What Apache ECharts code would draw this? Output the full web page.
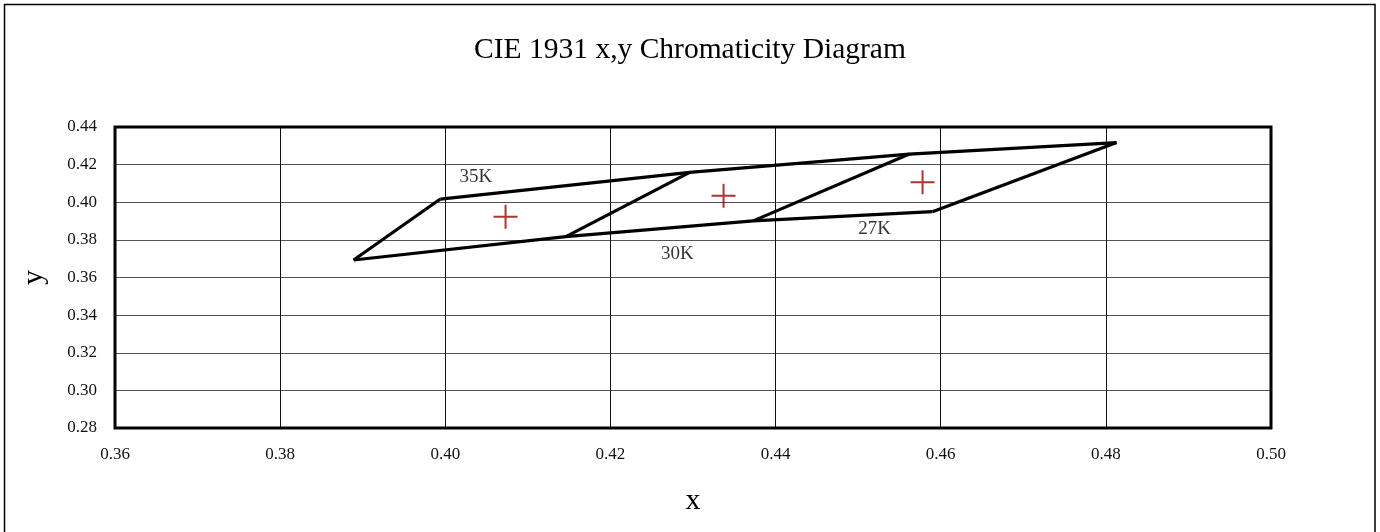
<!DOCTYPE html>
<html>
<head>
<meta charset="utf-8">
<script src="https://cdn.jsdelivr.net/npm/echarts@6/dist/echarts.min.js"></script>
<style>
  html, body { margin: 0; padding: 0; background: #fff; }
  #chart { width: 1380px; height: 532px; }
</style>
</head>
<body>
<div id="chart"></div>
<script>
// ================= 数据 =================
// upper and lower boundary of the CCT bins (x, y chromaticity)
const upperX = [0.3994, 0.4296, 0.4562, 0.4813]
const upperY = [0.4017, 0.4159, 0.4256, 0.4317]
const lowerX = [0.3889, 0.4146, 0.4373, 0.4590]
const lowerY = [0.3693, 0.3817, 0.3901, 0.3950]

// red + markers (bin centres)
const centerX = [0.4073, 0.4337, 0.4578]
const centerY = [0.3923, 0.4035, 0.4106]

// bin labels
const binNames = ['35K', '30K', '27K']
const binLabelX = [0.4037, 0.4281, 0.4520]
const binLabelY = [0.4133, 0.3725, 0.3858]

const xTicks = { min: 0.36, max: 0.50, interval: 0.02 }
const yTicks = { min: 0.28, max: 0.44, interval: 0.02 }

const FONT = 'Liberation Serif'

// ================= 配置 =================
const toPairs = (xs, ys) => xs.map((x, i) => [x, ys[i]])

const lineStyle = { color: '#000', width: 3.2, join: 'miter' }

const boundarySeries = [
  { name: 'upper', data: toPairs(upperX, upperY) },
  { name: 'lower', data: toPairs(lowerX, lowerY) }
].concat(upperX.map((x, i) => ({
  name: 'edge' + i,
  data: [[lowerX[i], lowerY[i]], [upperX[i], upperY[i]]]
}))).map(s => ({
  name: s.name,
  type: 'line',
  data: s.data,
  symbol: 'none',
  lineStyle,
  silent: true,
  z: 3
}))

const option = {
  animation: false,
  backgroundColor: '#fff',
  textStyle: { fontFamily: FONT },
  title: {
    text: 'CIE 1931 x,y Chromaticity Diagram',
    left: 'center',
    top: 30,
    textStyle: { fontFamily: FONT, fontSize: 29.5, fontWeight: 'normal', color: '#000' }
  },
  graphic: [{
    type: 'rect',
    shape: { x: 4.5, y: 4.5, width: 1370.5, height: 540 },
    style: { fill: 'none', stroke: '#000', lineWidth: 1.5 },
    silent: true
  }],
  grid: {
    left: 115,
    right: 109,
    top: 127,
    bottom: 104,
    show: true,
    borderColor: '#000',
    borderWidth: 3,
    z: 5
  },
  xAxis: {
    type: 'value',
    min: xTicks.min,
    max: xTicks.max,
    interval: xTicks.interval,
    name: 'x',
    nameLocation: 'middle',
    nameGap: 58,
    nameTextStyle: { fontFamily: FONT, fontSize: 30, color: '#000' },
    axisLine: { show: false },
    axisTick: { show: false },
    axisLabel: {
      margin: 18,
      fontFamily: FONT,
      fontSize: 17,
      color: '#111',
      formatter: v => v.toFixed(2)
    },
    splitLine: { show: true, lineStyle: { color: '#111', width: 1 } }
  },
  yAxis: {
    type: 'value',
    min: yTicks.min,
    max: yTicks.max,
    interval: yTicks.interval,
    name: 'y',
    nameLocation: 'middle',
    nameRotate: 90,
    nameGap: 66,
    nameTextStyle: { fontFamily: FONT, fontSize: 30, color: '#000' },
    axisLine: { show: false },
    axisTick: { show: false },
    axisLabel: {
      margin: 18,
      fontFamily: FONT,
      fontSize: 17,
      color: '#111',
      formatter: v => v.toFixed(2)
    },
    splitLine: { show: true, lineStyle: { color: '#555', width: 1 } }
  },
  series: boundarySeries.concat([
    {
      name: 'centre',
      type: 'scatter',
      data: toPairs(centerX, centerY),
      symbol: 'path://M0,-10 L0,10 M-10,0 L10,0',
      symbolSize: 24,
      itemStyle: { color: 'none', borderColor: '#9b0000', borderWidth: 2 },
      silent: true,
      z: 4
    },
    {
      name: 'labels',
      type: 'scatter',
      data: binNames.map((n, i) => ({ name: n, value: [binLabelX[i], binLabelY[i]] })),
      symbolSize: 1,
      itemStyle: { color: 'rgba(0,0,0,0)' },
      label: {
        show: true,
        position: 'inside',
        formatter: p => p.name,
        fontFamily: FONT,
        fontSize: 19,
        color: '#000'
      },
      silent: true,
      z: 4
    }
  ])
}

const chart = echarts.init(document.getElementById('chart'))
chart.setOption(option)
</script>
</body>
</html>
